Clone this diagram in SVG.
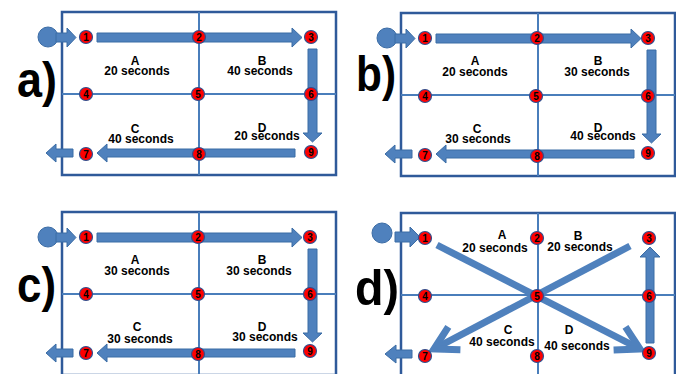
<svg xmlns="http://www.w3.org/2000/svg" width="676" height="374" viewBox="0 0 676 374">
<defs>
<style>
.frame{fill:none;stroke:#2F5A9A;stroke-width:2.5}
.grid{stroke:#4A7EBB;stroke-width:2}
.arr{fill:#4F81BD;stroke:#3B6CA5;stroke-width:1}
.start{fill:#4F81BD;stroke:#3B6CA5;stroke-width:1}
.diag{fill:none;stroke:#4F81BD;stroke-width:7}
.node circle{fill:#FF0000;stroke:#2F4F8F;stroke-width:1.2}
.node text{font-family:"Liberation Sans",Arial,sans-serif;font-weight:bold;font-size:10px;fill:#000;text-anchor:middle}
.lbl{font-family:"Liberation Sans",Arial,sans-serif;font-weight:bold;font-size:12px;fill:#000;text-anchor:middle}
.big{font-family:"Liberation Sans",Arial,sans-serif;font-weight:bold;font-size:50px;fill:#000}
</style>
<marker id="vhead" markerUnits="userSpaceOnUse" orient="auto" refX="0" refY="0" markerWidth="40" markerHeight="40" viewBox="-30 -20 40 40" overflow="visible">
<path d="M -23 -13 L 0 0 L -23 13" fill="none" stroke="#4F81BD" stroke-width="7" stroke-linejoin="miter"/>
</marker>
<g id="grid3">
<rect class="frame" x="62" y="12" width="274" height="163"/>
<line class="grid" x1="199" y1="12" x2="199" y2="175"/>
<line class="grid" x1="62" y1="94" x2="336" y2="94"/>
</g>
<g id="route">
<circle class="start" cx="48" cy="37" r="10"/>
<polygon class="arr" points="56,33 67,33 67,28 76,37.5 67,47 67,42 56,42"/>
<polygon class="arr" points="97,33 292,33 292,28 302,37.5 292,47 292,42 97,42"/>
<polygon class="arr" points="308,49 317,49 317,133 322,133 312.5,142 303,133 308,133"/>
<polygon class="arr" points="295,149 107,149 107,144 97,153 107,162 107,157 295,157"/>
<polygon class="arr" points="73,149 56,149 56,144 46,153 56,162 56,157 73,157"/>
</g>
</defs>

<!-- Panel a -->
<g id="panel-a">
<use href="#grid3"/>
<g id="a-connectors"><use href="#route"/></g>
<text class="big" x="17" y="97" textLength="40" lengthAdjust="spacingAndGlyphs">a)</text>
<text class="lbl"><tspan x="135" y="65">A</tspan><tspan x="137" y="75">20 seconds</tspan></text>
<text class="lbl"><tspan x="262" y="65">B</tspan><tspan x="260" y="75">40 seconds</tspan></text>
<text class="lbl"><tspan x="135" y="133">C</tspan><tspan x="141" y="143">40 seconds</tspan></text>
<text class="lbl"><tspan x="262" y="132">D</tspan><tspan x="267" y="140">20 seconds</tspan></text>
<g id="a-n1" class="node" transform="translate(86,37)"><circle r="6.5"/><text y="3.6">1</text></g>
<g id="a-n2" class="node" transform="translate(199,37)"><circle r="6.5"/><text y="3.6">2</text></g>
<g id="a-n3" class="node" transform="translate(311,37)"><circle r="6.5"/><text y="3.6">3</text></g>
<g id="a-n4" class="node" transform="translate(86,94)"><circle r="6.5"/><text y="3.6">4</text></g>
<g id="a-n5" class="node" transform="translate(198,94)"><circle r="6.5"/><text y="3.6">5</text></g>
<g id="a-n6" class="node" transform="translate(311,94)"><circle r="6.5"/><text y="3.6">6</text></g>
<g id="a-n7" class="node" transform="translate(86,154)"><circle r="6.5"/><text y="3.6">7</text></g>
<g id="a-n8" class="node" transform="translate(199,154)"><circle r="6.5"/><text y="3.6">8</text></g>
<g id="a-n9" class="node" transform="translate(311,152)"><circle r="6.5"/><text y="3.6">9</text></g>
</g>

<!-- Panel b -->
<g id="panel-b">
<g transform="translate(339,1)">
<use href="#grid3"/>
<g id="b-connectors"><use href="#route"/></g>
<g id="b-n1" class="node" transform="translate(86,37)"><circle r="6.5"/><text y="3.6">1</text></g>
<g id="b-n2" class="node" transform="translate(198,37)"><circle r="6.5"/><text y="3.6">2</text></g>
<g id="b-n3" class="node" transform="translate(309,37)"><circle r="6.5"/><text y="3.6">3</text></g>
<g id="b-n4" class="node" transform="translate(86,95)"><circle r="6.5"/><text y="3.6">4</text></g>
<g id="b-n5" class="node" transform="translate(197,95)"><circle r="6.5"/><text y="3.6">5</text></g>
<g id="b-n6" class="node" transform="translate(309,95)"><circle r="6.5"/><text y="3.6">6</text></g>
<g id="b-n7" class="node" transform="translate(86,154)"><circle r="6.5"/><text y="3.6">7</text></g>
<g id="b-n8" class="node" transform="translate(198,155)"><circle r="6.5"/><text y="3.6">8</text></g>
<g id="b-n9" class="node" transform="translate(309,152)"><circle r="6.5"/><text y="3.6">9</text></g>
</g>
<text class="big" x="356" y="91" textLength="40" lengthAdjust="spacingAndGlyphs">b)</text>
<text class="lbl"><tspan x="475" y="65">A</tspan><tspan x="475" y="76">20 seconds</tspan></text>
<text class="lbl"><tspan x="598" y="65">B</tspan><tspan x="597" y="76">30 seconds</tspan></text>
<text class="lbl"><tspan x="477" y="133">C</tspan><tspan x="478" y="143">30 seconds</tspan></text>
<text class="lbl"><tspan x="598" y="132">D</tspan><tspan x="603" y="140">40 seconds</tspan></text>
</g>

<!-- Panel c -->
<g id="panel-c">
<g transform="translate(0,200)">
<use href="#grid3"/>
<g id="c-connectors"><use href="#route"/></g>
<g id="c-n1" class="node" transform="translate(86,37)"><circle r="6.5"/><text y="3.6">1</text></g>
<g id="c-n2" class="node" transform="translate(198,37)"><circle r="6.5"/><text y="3.6">2</text></g>
<g id="c-n3" class="node" transform="translate(310,37)"><circle r="6.5"/><text y="3.6">3</text></g>
<g id="c-n4" class="node" transform="translate(86,94)"><circle r="6.5"/><text y="3.6">4</text></g>
<g id="c-n5" class="node" transform="translate(198,94)"><circle r="6.5"/><text y="3.6">5</text></g>
<g id="c-n6" class="node" transform="translate(310,94)"><circle r="6.5"/><text y="3.6">6</text></g>
<g id="c-n7" class="node" transform="translate(86,153)"><circle r="6.5"/><text y="3.6">7</text></g>
<g id="c-n8" class="node" transform="translate(198,154)"><circle r="6.5"/><text y="3.6">8</text></g>
<g id="c-n9" class="node" transform="translate(310,151)"><circle r="6.5"/><text y="3.6">9</text></g>
</g>
<text class="big" x="17" y="302" textLength="39" lengthAdjust="spacingAndGlyphs">c)</text>
<text class="lbl"><tspan x="135" y="264">A</tspan><tspan x="137" y="275">30 seconds</tspan></text>
<text class="lbl"><tspan x="262" y="264">B</tspan><tspan x="259" y="275">30 seconds</tspan></text>
<text class="lbl"><tspan x="137" y="331">C</tspan><tspan x="140" y="343">30 seconds</tspan></text>
<text class="lbl"><tspan x="262" y="331">D</tspan><tspan x="265" y="341">30 seconds</tspan></text>
</g>

<!-- Panel d -->
<g id="panel-d">
<g transform="translate(339,201)"><use href="#grid3"/></g>
<text class="big" x="355" y="305" textLength="44" lengthAdjust="spacingAndGlyphs">d)</text>
<g id="d-connectors">
<circle class="start" cx="382" cy="233" r="10"/>
<polygon class="arr" points="395,232 410,232 410,227 420,237 410,247 410,242 395,242"/>
<polygon class="arr" points="412,350 396,350 396,345 385,354 396,363 396,358 412,358"/>
<polygon class="arr" points="646,343 654,343 654,257 660,257 650,247 640,257 646,257"/>
<line class="diag" x1="437" y1="245" x2="640" y2="349" marker-end="url(#vhead)"/>
<line class="diag" x1="630" y1="246" x2="434" y2="349" marker-end="url(#vhead)"/>
</g>
<text class="lbl"><tspan x="502" y="239">A</tspan><tspan x="495" y="252">20 seconds</tspan></text>
<text class="lbl"><tspan x="578" y="240">B</tspan><tspan x="580" y="251">20 seconds</tspan></text>
<text class="lbl"><tspan x="508" y="334">C</tspan><tspan x="502" y="346">40 seconds</tspan></text>
<text class="lbl"><tspan x="569" y="334">D</tspan><tspan x="577" y="350">40 seconds</tspan></text>
<g id="d-n1" class="node" transform="translate(425,238)"><circle r="6.5"/><text y="3.6">1</text></g>
<g id="d-n2" class="node" transform="translate(537,238)"><circle r="6.5"/><text y="3.6">2</text></g>
<g id="d-n3" class="node" transform="translate(649,238)"><circle r="6.5"/><text y="3.6">3</text></g>
<g id="d-n4" class="node" transform="translate(425,296)"><circle r="6.5"/><text y="3.6">4</text></g>
<g id="d-n5" class="node" transform="translate(537,296)"><circle r="6.5"/><text y="3.6">5</text></g>
<g id="d-n6" class="node" transform="translate(649,296)"><circle r="6.5"/><text y="3.6">6</text></g>
<g id="d-n7" class="node" transform="translate(425,356)"><circle r="6.5"/><text y="3.6">7</text></g>
<g id="d-n8" class="node" transform="translate(537,356)"><circle r="6.5"/><text y="3.6">8</text></g>
<g id="d-n9" class="node" transform="translate(649,353)"><circle r="6.5"/><text y="3.6">9</text></g>
</g>
</svg>
